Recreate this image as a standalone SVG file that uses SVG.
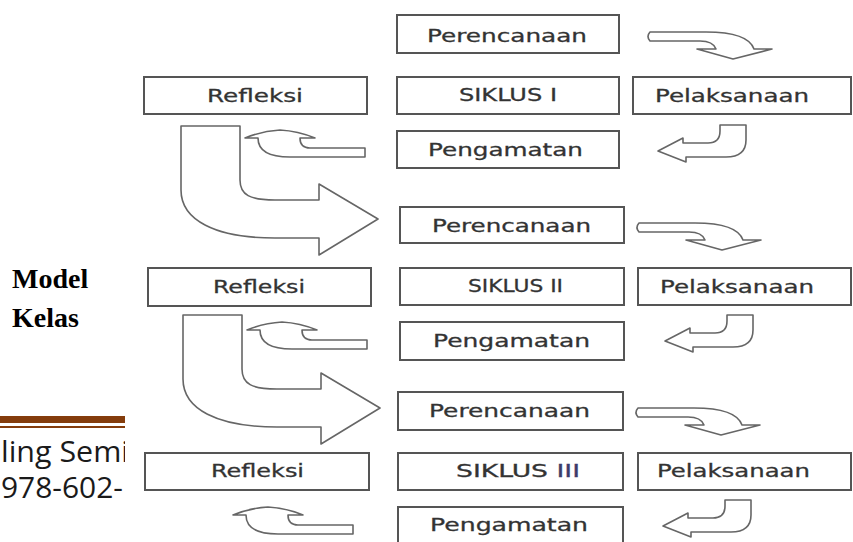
<svg xmlns="http://www.w3.org/2000/svg" xmlns:xlink="http://www.w3.org/1999/xlink" width="853" height="542" viewBox="0 0 853 542">
<style>
.box{fill:#fff;stroke:#555;stroke-width:2}
.lbl{font-family:"DejaVu Sans",sans-serif;font-size:18px;fill:#333;stroke:#333;stroke-width:0.3}
.arr{fill:#fff;stroke:#666;stroke-width:1.6;stroke-linejoin:round}
.side{font-family:"Liberation Serif",serif;font-weight:bold;font-size:28px;fill:#000}
.foot{font-family:"Open Sans",sans-serif;font-size:29px;fill:#1a1a1a}
</style>
<defs>
<path id="curveR" d="M650,32 L706,32 Q748,32 754,49 L772,49 L733,59 L697,49 L716,49 Q713,41 700,41 L650,41 Q646,36.5 650,32 Z"/>
<path id="hook" d="M720,125 L746,125 L746,140 Q746,157 726,157 L686,157 L686,162 L658,151 L683,138 L683,143 L708,143 Q720,143 720,131 Z"/>
<path id="smallL" d="M365,148 L310,148 Q300,148 300,138 L315,138 Q298,131 280,130 Q262,131 245,138 L258,138 Q258,157 290,157 L365,157 Z"/>
<path id="bigU" d="M181,126 L240,126 L240,180 C240,195 250,200 275,200 L319,200 L319,184 L378,219 L319,255 L319,238 L275,238 C215,238 181,220 181,190 Z"/>
<clipPath id="clipL"><rect x="0" y="0" width="125" height="542"/></clipPath>
</defs>
<rect width="853" height="542" fill="#fff"/>

<g id="connectors">
<use xlink:href="#curveR" class="arr"/>
<use xlink:href="#hook" class="arr"/>
<use xlink:href="#smallL" class="arr"/>
<use xlink:href="#bigU" class="arr"/>
<use xlink:href="#curveR" class="arr" transform="translate(-11,191)"/>
<use xlink:href="#hook" class="arr" transform="translate(7,190)"/>
<use xlink:href="#smallL" class="arr" transform="translate(2,192)"/>
<use xlink:href="#bigU" class="arr" transform="translate(2,189)"/>
<use xlink:href="#curveR" class="arr" transform="translate(-12,376)"/>
<use xlink:href="#hook" class="arr" transform="translate(5,375)"/>
<use xlink:href="#smallL" class="arr" transform="translate(-12,377)"/>
</g>

<g id="perencanaan1"><rect class="box" x="397" y="15" width="222" height="38"/><text class="lbl" x="427" y="42" textLength="160" lengthAdjust="spacingAndGlyphs">Perencanaan</text></g>
<g id="refleksi1"><rect class="box" x="144" y="77" width="223" height="37"/><text class="lbl" x="207" y="102" textLength="96" lengthAdjust="spacingAndGlyphs">Refleksi</text></g>
<g id="siklus1"><rect class="box" x="397" y="77" width="222" height="37"/><text class="lbl" x="459" y="101" textLength="98" lengthAdjust="spacingAndGlyphs">SIKLUS I</text></g>
<g id="pelaksanaan1"><rect class="box" x="633" y="77" width="218" height="37"/><text class="lbl" x="655" y="102" textLength="154" lengthAdjust="spacingAndGlyphs">Pelaksanaan</text></g>
<g id="pengamatan1"><rect class="box" x="397" y="131" width="222" height="37"/><text class="lbl" x="428" y="156" textLength="155" lengthAdjust="spacingAndGlyphs">Pengamatan</text></g>

<g id="perencanaan2"><rect class="box" x="400" y="207" width="224" height="36"/><text class="lbl" x="432" y="232" textLength="159" lengthAdjust="spacingAndGlyphs">Perencanaan</text></g>
<g id="refleksi2"><rect class="box" x="148" y="268" width="223" height="38"/><text class="lbl" x="213" y="293" textLength="92" lengthAdjust="spacingAndGlyphs">Refleksi</text></g>
<g id="siklus2"><rect class="box" x="400" y="268" width="224" height="37"/><text class="lbl" x="468" y="292" textLength="95" lengthAdjust="spacingAndGlyphs">SIKLUS II</text></g>
<g id="pelaksanaan2"><rect class="box" x="638" y="268" width="213" height="37"/><text class="lbl" x="660" y="293" textLength="154" lengthAdjust="spacingAndGlyphs">Pelaksanaan</text></g>
<g id="pengamatan2"><rect class="box" x="400" y="322" width="224" height="38"/><text class="lbl" x="433" y="347" textLength="157" lengthAdjust="spacingAndGlyphs">Pengamatan</text></g>

<g id="perencanaan3"><rect class="box" x="398" y="392" width="225" height="38"/><text class="lbl" x="429" y="417" textLength="161" lengthAdjust="spacingAndGlyphs">Perencanaan</text></g>
<g id="refleksi3"><rect class="box" x="145" y="453" width="224" height="37"/><text class="lbl" x="211" y="477" textLength="93" lengthAdjust="spacingAndGlyphs">Refleksi</text></g>
<g id="siklus3"><rect class="box" x="398" y="453" width="225" height="37"/><text class="lbl" x="456" y="477" textLength="124" lengthAdjust="spacingAndGlyphs">SIKLUS <tspan fill="#3c3c6a" stroke="#3c3c6a">III</tspan></text></g>
<g id="pelaksanaan3"><rect class="box" x="638" y="453" width="213" height="37"/><text class="lbl" x="657" y="477" textLength="153" lengthAdjust="spacingAndGlyphs">Pelaksanaan</text></g>
<g id="pengamatan3"><rect class="box" x="398" y="507" width="225" height="40"/><text class="lbl" x="430" y="531" textLength="158" lengthAdjust="spacingAndGlyphs">Pengamatan</text></g>

<g id="side-label">
<text class="side" x="12" y="288">Model</text>
<text class="side" x="12" y="327">Kelas</text>
</g>

<g id="footer" clip-path="url(#clipL)">
<rect x="0" y="416" width="125" height="7" fill="#843c0c"/>
<rect x="0" y="426" width="125" height="2" fill="#843c0c"/>
<text class="foot" x="1" y="462" textLength="128" lengthAdjust="spacingAndGlyphs">ling Semi</text>
<text class="foot" x="1" y="498" textLength="122" lengthAdjust="spacingAndGlyphs">978-602-</text>
</g>
</svg>
